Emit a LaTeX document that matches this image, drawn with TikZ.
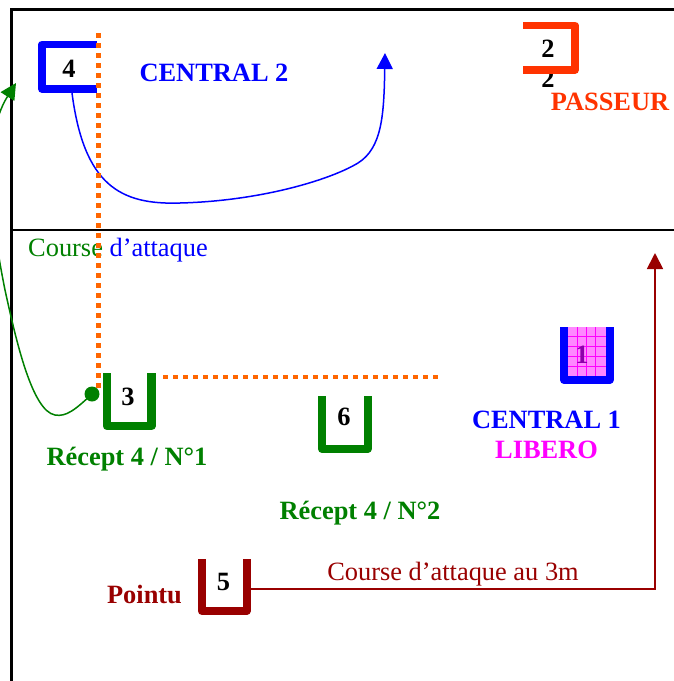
\documentclass[tikz,border=0pt]{standalone}
\usepackage{fontspec}
\setmainfont{Liberation Serif}
\usetikzlibrary{arrows.meta}
\definecolor{cblue}{RGB}{0,0,255}
\definecolor{cgreen}{RGB}{0,128,0}
\definecolor{cdred}{RGB}{153,0,0}
\definecolor{corange}{RGB}{255,102,0}
\definecolor{cred}{RGB}{255,51,0}
\definecolor{cmag}{RGB}{255,0,255}
\definecolor{cpink}{RGB}{255,136,255}
\definecolor{cpurple}{RGB}{140,0,170}
\tikzset{
  lbl/.style={font=\fontsize{26.4}{30}\selectfont\bfseries, inner sep=0pt, anchor=base},
  rlbl/.style={font=\fontsize{26.4}{30}\selectfont, inner sep=0pt, anchor=base},
  num/.style={font=\fontsize{26.4}{30}\selectfont\bfseries, inner sep=0pt, anchor=base, text=black},
  pbox/.style={line width=8pt, line join=round},
  dots/.style={draw=corange, line width=4.5pt, dash pattern=on 4.5pt off 5.5pt},
  tip/.style={-{Triangle[length=16pt,width=16pt]}},
  frameline/.style={draw=black, line width=3pt},
}
\begin{document}
\begin{tikzpicture}[x=1pt,y=-1pt]
\useasboundingbox (0,0) rectangle (674,681);
\begin{scope}
\clip (0,0) rectangle (674,681);
% frame
\draw[frameline] (11,9.5) -- (674,9.5);
\draw[frameline] (11,8) -- (11,681);
\draw[black, line width=1.5pt] (10,230) -- (674,230);

% labels
\node[lbl, text=cblue] (lc2) at (214,81) {CENTRAL 2};
\node[lbl, text=cred] (lpas) at (610,110) {PASSEUR};
\node[lbl, text=cblue] (lc1) at (546.5,428) {CENTRAL 1};
\node[lbl, text=cmag] (llib) at (546.5,458) {LIBERO};
\node[lbl, text=cgreen] (lr1) at (127,465) {Récept 4 / N°1};
\node[lbl, text=cgreen] (lr2) at (360,519) {Récept 4 / N°2};
\node[lbl, text=cdred] (lpt) at (144.5,603) {Pointu};
\node[rlbl, anchor=base west] (lca) at (28,256) {\textcolor{cgreen}{Course} \textcolor{cblue}{d’attaque}};
\node[rlbl, text=cdred] (lca3) at (453,580) {Course d’attaque au 3m};

% player 2 (passeur)
\node[num] (n2b) at (548,87) {2};
\draw[pbox, line width=7.5pt, draw=cred] (523,25.5) -- (575,25.5) -- (575,70) -- (523,70);
\node[num] (n2) at (548,57) {2};

% player 4
\draw[pbox, line width=7.5pt, draw=cblue] (97,44.5) -- (42,44.5) -- (42,89) -- (97,89);
\node[num] (n4) at (69,77) {4};
\coordinate (b4s) at (72,93);

% player 1 (libero)
\fill[cpink] (568,327) rectangle (605.5,376);
\foreach \gx in {577,586,595} \draw[cmag, line width=0.6pt] (\gx,327) -- (\gx,376);
\foreach \gy in {336,346,356,366} \draw[cmag, line width=0.6pt] (568,\gy) -- (605.5,\gy);
\draw[pbox, draw=cblue] (564,327) -- (564,380) -- (609.5,380) -- (609.5,327);
\node[num, text=cpurple] (n1) at (582,363) {1};

% player 3
\draw[pbox, line width=8.5pt, draw=cgreen] (107,373) -- (107,426) -- (151.5,426) -- (151.5,373);
\node[num] (n3) at (128,405) {3};

% player 6
\draw[pbox, draw=cgreen] (322,396) -- (322,449) -- (367.5,449) -- (367.5,396);
\node[num] (n6) at (344,425) {6};

% player 5
\draw[pbox, draw=cdred] (201.7,559) -- (201.7,611) -- (246.7,611) -- (246.7,559);
\node[num] (n5) at (223.5,590) {5};
\coordinate (b5e) at (250.5,589);
\coordinate (rc) at (655,589);
\coordinate (rt) at (655,253);

% blue run of central 2
\coordinate (bt) at (385,53);
\draw[cblue, line width=1.5pt, tip] (b4s) .. controls (84,185) and (120,205) .. (180,203)
   .. controls (260,201) and (330,180) .. (358,163)
   .. controls (382,148) and (384,115) .. (bt);

% green run of 3
\node[circle, fill=cgreen, minimum size=15pt, inner sep=0pt] (dot) at (92,394) {};
\coordinate (gt) at (16,83);
\draw[cgreen, line width=1.5pt, tip] (dot.center) .. controls (75,410) and (66,417) .. (55,415)
   .. controls (32,411) and (16,340) .. (5,290)
   .. controls (-8,225) and (-20,140) .. (gt);

% red run of 5
\draw[cdred, line width=1.8pt, tip] (b5e) -- (rc) -- (rt);

% orange dotted lines
\draw[dots] (98.5,33) -- (98.5,388);
\draw[dots] (163,377) -- (443,377);
\end{scope}
\end{tikzpicture}
\end{document}
